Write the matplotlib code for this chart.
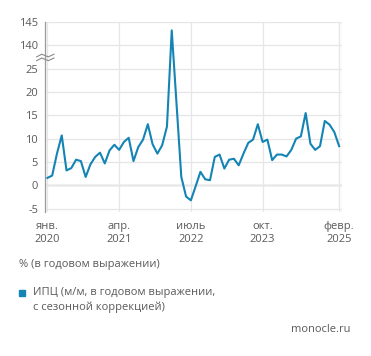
import numpy as np
import matplotlib
matplotlib.use("Agg")
import matplotlib.pyplot as plt

plt.rcParams['font.family'] = ['Open Sans', 'DejaVu Sans']

# ИПЦ, м/м в годовом выражении, янв. 2020 - февр. 2025
cpi = [1.6, 2.1, 6.8, 10.7, 3.2, 3.7, 5.5, 5.2, 1.8, 4.5,
       6.1, 7.0, 4.7, 7.5, 8.7, 7.6, 9.3, 10.2, 5.2, 8.2,
       9.8, 13.1, 8.8, 6.8, 8.6, 12.6, 143.2, 17.5, 1.8, -2.4,
       -3.2, -0.2, 2.9, 1.3, 1.1, 6.1, 6.6, 3.6, 5.5, 5.7,
       4.3, 6.8, 9.1, 9.8, 13.1, 9.3, 9.8, 5.4, 6.6, 6.6,
       6.2, 7.6, 10.0, 10.5, 15.5, 8.9, 7.6, 8.4, 13.8, 13.0,
       11.4, 8.4]
tick_idx = [0, 15, 30, 45, 61]
tick_labels = ['янв.\n2020', 'апр.\n2021', 'июль\n2022', 'окт.\n2023', 'февр.\n2025']
yticks = [-5, 0, 5, 10, 15, 20, 25, 140, 145]

blue = '#1484b4'
grey_txt = '#5a5a5a'

# broken y axis: 27.5..137.6 squeezed almost to nothing
A, K = 27.5, 1e-3
B = A + 110 / (1 - K)
FB = B - 110


def fwd(v):
    v = np.asarray(v, dtype=float)
    return np.where(v <= A, v, np.where(v < B, A + (v - A) * K, v - 110))


def inv(y):
    y = np.asarray(y, dtype=float)
    return np.where(y <= A, y, np.where(y < FB, A + (y - A) / K, y + 110))


fig = plt.figure(figsize=(3.71, 3.56), dpi=100)
ax = fig.add_axes([45 / 371, 1 - 211.5 / 356, 297 / 371, 189.5 / 356])
ax.set_yscale('function', functions=(fwd, inv))

x = np.arange(len(cpi))
ax.plot(x, cpi, color=blue, lw=1.5, zorder=3)

ax.set_xlim(-0.5, 61.6)
ax.set_ylim(-5.6, 145)
ax.set_yticks(yticks)
ax.set_yticklabels([str(t) for t in yticks])
ax.set_xticks(tick_idx)
ax.set_xticklabels(tick_labels)
ax.yaxis.set_minor_locator(matplotlib.ticker.NullLocator())

ax.grid(True, color='#e6e6e6', lw=0.9, zorder=0)
ax.axhline(0, color='#9a9a9a', lw=0.9, zorder=1)
ax.tick_params(length=0, labelsize=8, colors=grey_txt)
ax.tick_params(axis='y', pad=5)
ax.tick_params(axis='x', pad=7)
for s in ['top', 'right']:
    ax.spines[s].set_visible(False)
ax.spines['bottom'].set_visible(False)
ax.spines['left'].set_color('#9a9a9a')
ax.spines['left'].set_linewidth(0.9)
ax.axvline(61.6, color='#e6e6e6', lw=0.9, zorder=0)

# break mark on the y axis
zx = np.array([-0.028, -0.011, 0.011, 0.03])
zy = np.array([-0.007, 0.007, -0.007, 0.007])
for yc in (0.823, 0.803):
    ax.plot(zx, yc + zy, transform=ax.transAxes, color='#8a8a8a', lw=0.8,
            clip_on=False, zorder=5)

fig.text(19 / 371, 1 - 265 / 356, '% (в годовом выражении)', fontsize=8,
         color=grey_txt, va='center')
fig.patches.append(plt.Rectangle((19 / 371, 1 - 296 / 356), 6 / 371, 6 / 356,
                                 transform=fig.transFigure, color=blue))
fig.text(33 / 371, 1 - 293 / 356, 'ИПЦ (м/м, в годовом выражении,', fontsize=8,
         color=grey_txt, va='center')
fig.text(33 / 371, 1 - 307 / 356, 'с сезонной коррекцией)', fontsize=8,
         color=grey_txt, va='center')
fig.text(351 / 371, 1 - 330 / 356, 'monocle.ru', fontsize=8, color=grey_txt,
         va='center', ha='right')

fig.savefig('out.png', dpi=100)
